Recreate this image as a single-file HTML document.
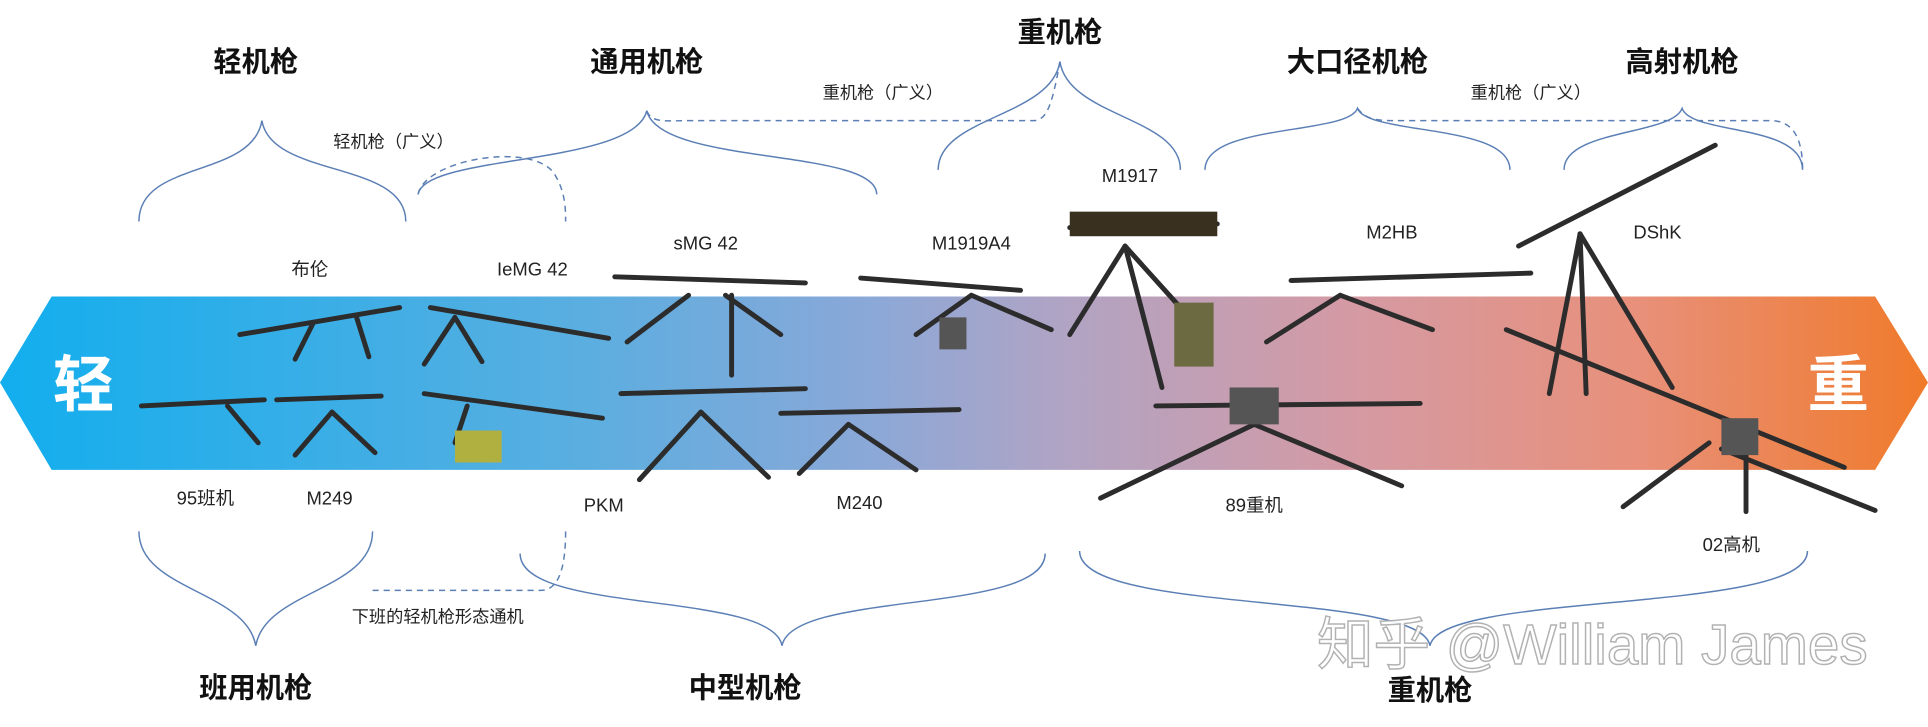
<!DOCTYPE html>
<html><head><meta charset="utf-8"><style>
html,body{margin:0;padding:0;background:#fff;}
svg{display:block;}
text{font-family:"Liberation Sans","Noto Sans CJK SC",sans-serif;}
</style></head><body>
<svg width="1928" height="727" viewBox="0 0 1568 591" xmlns="http://www.w3.org/2000/svg">
<defs>
<linearGradient id="g" x1="0" x2="1" y1="0" y2="0">
<stop offset="0" stop-color="#12aeee"/>
<stop offset="0.3" stop-color="#5aaee0"/>
<stop offset="0.45" stop-color="#8aa8d8"/>
<stop offset="0.55" stop-color="#b0a4c4"/>
<stop offset="0.7" stop-color="#d49aa4"/>
<stop offset="0.85" stop-color="#e8907a"/>
<stop offset="1" stop-color="#f07a2a"/>
</linearGradient>
</defs>
<rect width="1568" height="591" fill="#fff"/>
<polygon points="0,311 42,241 1525,241 1568,311 1525,382 42,382" fill="url(#g)"/>
<text x="68" y="330" font-size="50" font-weight="bold" fill="#fff" text-anchor="middle">轻</text>
<text x="1495" y="330" font-size="50" font-weight="bold" fill="#fff" text-anchor="middle">重</text>

<g font-size="23" font-weight="bold" fill="#111" text-anchor="middle">
<text x="208" y="58">轻机枪</text>
<text x="526" y="58">通用机枪</text>
<text x="862" y="34">重机枪</text>
<text x="1104" y="58">大口径机枪</text>
<text x="1368" y="58">高射机枪</text>
<text x="208" y="567">班用机枪</text>
<text x="606" y="567">中型机枪</text>
<text x="1163" y="569">重机枪</text>
</g>
<g font-size="14" fill="#222" text-anchor="middle">
<text x="320" y="120">轻机枪（广义）</text>
<text x="718" y="80">重机枪（广义）</text>
<text x="1245" y="80">重机枪（广义）</text>
<text x="356" y="506">下班的轻机枪形态通机</text>
</g>

<g fill="none" stroke="#5b7fb5" stroke-width="1.2">
<path d="M113,180 C113,130 205,145 213,98 C221,145 330,130 330,180"/>
<path d="M340,158 C345,125 515,135 526,90 C537,135 713,120 713,158"/>
<path d="M763,138 C763,95 855,95 862,50 C869,95 960,95 960,138"/>
<path d="M980,138 C980,100 1096,110 1104,88 C1112,110 1228,100 1228,138"/>
<path d="M1272,138 C1272,105 1360,110 1368,88 C1376,110 1466,100 1466,138"/>
<path d="M113,432 C113,480 200,480 208,525 C216,480 303,480 303,432"/>
<path d="M423,450 C423,500 628,480 636,525 C644,480 850,500 850,450"/>
<path d="M878,448 C878,500 1155,480 1163,525 C1171,480 1470,500 1470,448"/>
</g>
<g fill="none" stroke="#5b7fb5" stroke-width="1.2" stroke-dasharray="5,4">
<path d="M340,158 C345,130 430,115 450,140 C460,155 460,170 460,180"/>
<path d="M526,90 C530,100 540,98 560,98 L840,98 C850,98 855,90 862,50"/>
<path d="M1104,88 C1112,98 1120,98 1140,98 L1440,98 C1460,98 1466,115 1466,138"/>
<path d="M303,480 L440,480 C455,480 460,460 460,432"/>
</g>

<g font-size="15" fill="#222" text-anchor="middle">
<text x="252" y="224">布伦</text>
<text x="433" y="224">IeMG 42</text>
<text x="574" y="203">sMG 42</text>
<text x="790" y="203">M1919A4</text>
<text x="919" y="148">M1917</text>
<text x="1132" y="194">M2HB</text>
<text x="1348" y="194">DShK</text>
<text x="167" y="410">95班机</text>
<text x="268" y="410">M249</text>
<text x="491" y="416">PKM</text>
<text x="699" y="414">M240</text>
<text x="1020" y="416">89重机</text>
<text x="1408" y="448">02高机</text>
</g>

<!-- gun silhouettes -->
<g stroke="#2c2c2c" fill="#3a3a3a" stroke-width="4" stroke-linecap="round">
<line x1="195" y1="272" x2="325" y2="250"/><line x1="255" y1="262" x2="240" y2="292"/><line x1="290" y1="258" x2="300" y2="290"/>
<line x1="350" y1="250" x2="495" y2="275"/><line x1="370" y1="258" x2="345" y2="296"/><line x1="370" y1="258" x2="392" y2="294"/>
<line x1="500" y1="225" x2="655" y2="230"/><line x1="560" y1="240" x2="510" y2="278"/><line x1="590" y1="240" x2="635" y2="272"/><line x1="595" y1="240" x2="595" y2="305"/>
<line x1="700" y1="226" x2="830" y2="236"/><line x1="790" y1="240" x2="745" y2="272"/><line x1="790" y1="240" x2="855" y2="268"/>
<line x1="870" y1="185" x2="990" y2="182"/><line x1="915" y1="200" x2="870" y2="272"/><line x1="915" y1="200" x2="945" y2="315"/><line x1="915" y1="200" x2="960" y2="250"/>
<line x1="1050" y1="228" x2="1245" y2="222"/><line x1="1090" y1="240" x2="1030" y2="278"/><line x1="1090" y1="240" x2="1165" y2="268"/>
<line x1="1235" y1="200" x2="1395" y2="118"/><line x1="1285" y1="190" x2="1260" y2="320"/><line x1="1285" y1="190" x2="1360" y2="315"/><line x1="1285" y1="190" x2="1290" y2="320"/>
<line x1="1225" y1="268" x2="1500" y2="380"/><line x1="1390" y1="360" x2="1320" y2="412"/><line x1="1400" y1="365" x2="1525" y2="415"/><line x1="1420" y1="360" x2="1420" y2="416"/>
<line x1="115" y1="330" x2="215" y2="325"/><line x1="185" y1="330" x2="210" y2="360"/>
<line x1="225" y1="325" x2="310" y2="322"/><line x1="270" y1="335" x2="240" y2="370"/><line x1="270" y1="335" x2="305" y2="368"/>
<line x1="345" y1="320" x2="490" y2="340"/><line x1="380" y1="330" x2="370" y2="360"/>
<line x1="505" y1="320" x2="655" y2="316"/><line x1="570" y1="335" x2="520" y2="390"/><line x1="570" y1="335" x2="625" y2="388"/>
<line x1="635" y1="336" x2="780" y2="333"/><line x1="690" y1="345" x2="650" y2="385"/><line x1="690" y1="345" x2="745" y2="382"/>
<line x1="940" y1="330" x2="1155" y2="328"/><line x1="1020" y1="345" x2="895" y2="405"/><line x1="1020" y1="345" x2="1140" y2="395"/>
</g>
<g fill="#555">
<rect x="764" y="258" width="22" height="26"/><rect x="955" y="246" width="32" height="52" fill="#6b6a40"/>
<rect x="370" y="350" width="38" height="26" fill="#b0b040"/><rect x="870" y="172" width="120" height="20" fill="#3a3020"/>
<rect x="1000" y="315" width="40" height="30"/><rect x="1400" y="340" width="30" height="30"/>
</g>

<text x="1295" y="540" font-size="46" fill="#fff" stroke="#aaa" stroke-width="1.2" text-anchor="middle" opacity="0.9">知乎 @William James</text>
</svg>
</body></html>
